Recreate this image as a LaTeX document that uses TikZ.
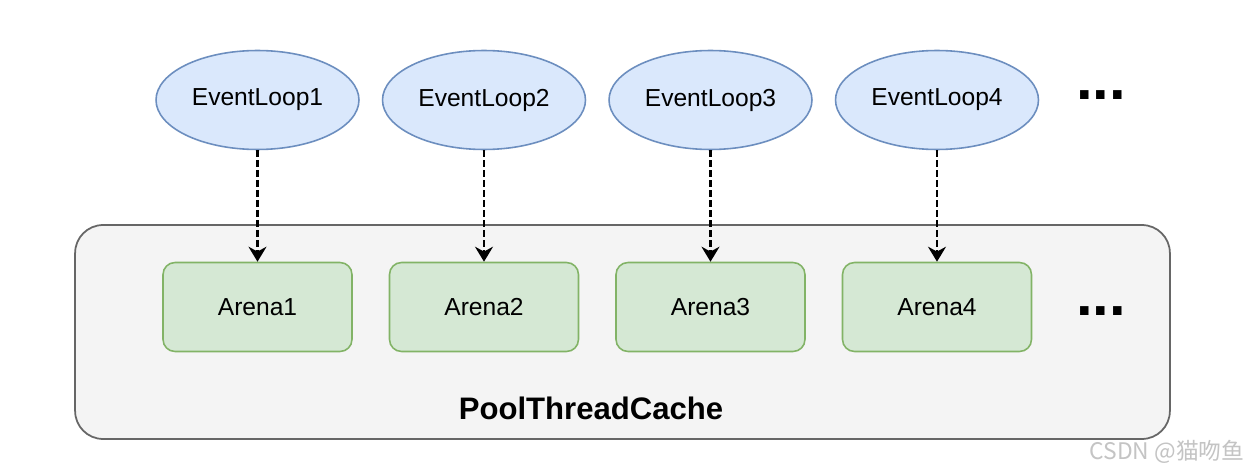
\documentclass[tikz,border=0pt]{standalone}
\usepackage{fontspec}
\setmainfont{Liberation Sans}
\newfontfamily\cjk{Noto Sans CJK SC}
\usepackage{tikz}
\usetikzlibrary{shapes.geometric,arrows.meta}
\definecolor{loopfill}{HTML}{DAE8FC}
\definecolor{loopline}{HTML}{6C8EBF}
\definecolor{arenafill}{HTML}{D5E8D4}
\definecolor{arenaline}{HTML}{82B366}
\definecolor{poolfill}{HTML}{F4F4F4}
\definecolor{poolline}{HTML}{666666}
\definecolor{markgray}{HTML}{C4C4C4}

\begin{document}
\begin{tikzpicture} [x=0.02cm, y=-0.02cm,
        evloop/.style={ellipse, draw=loopline, fill=loopfill, line width=0.9pt,
            minimum width=4.06cm, minimum height=1.98cm, inner sep=0pt,
            font=\fontsize{14}{16}\selectfont},
        arena/.style={rectangle, rounded corners=0.24cm, draw=arenaline, fill=arenafill,
            line width=0.9pt, minimum width=3.78cm, minimum height=1.78cm, inner sep=0pt,
            font=\fontsize{14}{16}\selectfont},
        more/.style={inner sep=0pt, font=\fontsize{34}{34}\selectfont\bfseries}]
        \fill[white] (0,0) rectangle (1255,473);
        \useasboundingbox (0,0) rectangle (1255,473);
        \node[rectangle, rounded corners=0.56cm, draw=poolline, fill=poolfill, line width=1pt,
            minimum width=21.9cm, minimum height=4.28cm, inner sep=0pt] at (622.5,332) (pool) {};
        \node[font=\fontsize{17.7}{20}\selectfont\bfseries] at (591,408) (poolname) {PoolThreadCache};
        \node[evloop] at (257.5,100) (e1) {EventLoop1};
        \node[evloop] at (484,100) (e2) {EventLoop2};
        \node[evloop] at (710.5,100) (e3) {EventLoop3};
        \node[evloop] at (937,100) (e4) {EventLoop4};
        \node[arena] at (257.5,307) (a1) {Arena1};
        \node[arena] at (484,307) (a2) {Arena2};
        \node[arena] at (710.5,307) (a3) {Arena3};
        \node[arena] at (937,307) (a4) {Arena4};
        \node[more] at (1101,95.5) (moreloops) {...};
        \node[more] at (1101,311) (morearenas) {...};
        \path[-{Stealth[length=0.3cm, width=0.36cm]}, line width=1.2pt,
            dash pattern=on 0.13cm off 0.07cm]
        (e1) edge (a1)
        (e2) edge (a2)
        (e3) edge (a3)
        (e4) edge (a4)
        ;
        \node[text=markgray, font=\fontsize{13}{15}\selectfont\cjk] at (1167,452) (mark) {CSDN @猫吻鱼};
    \end{tikzpicture}
\end{document}
